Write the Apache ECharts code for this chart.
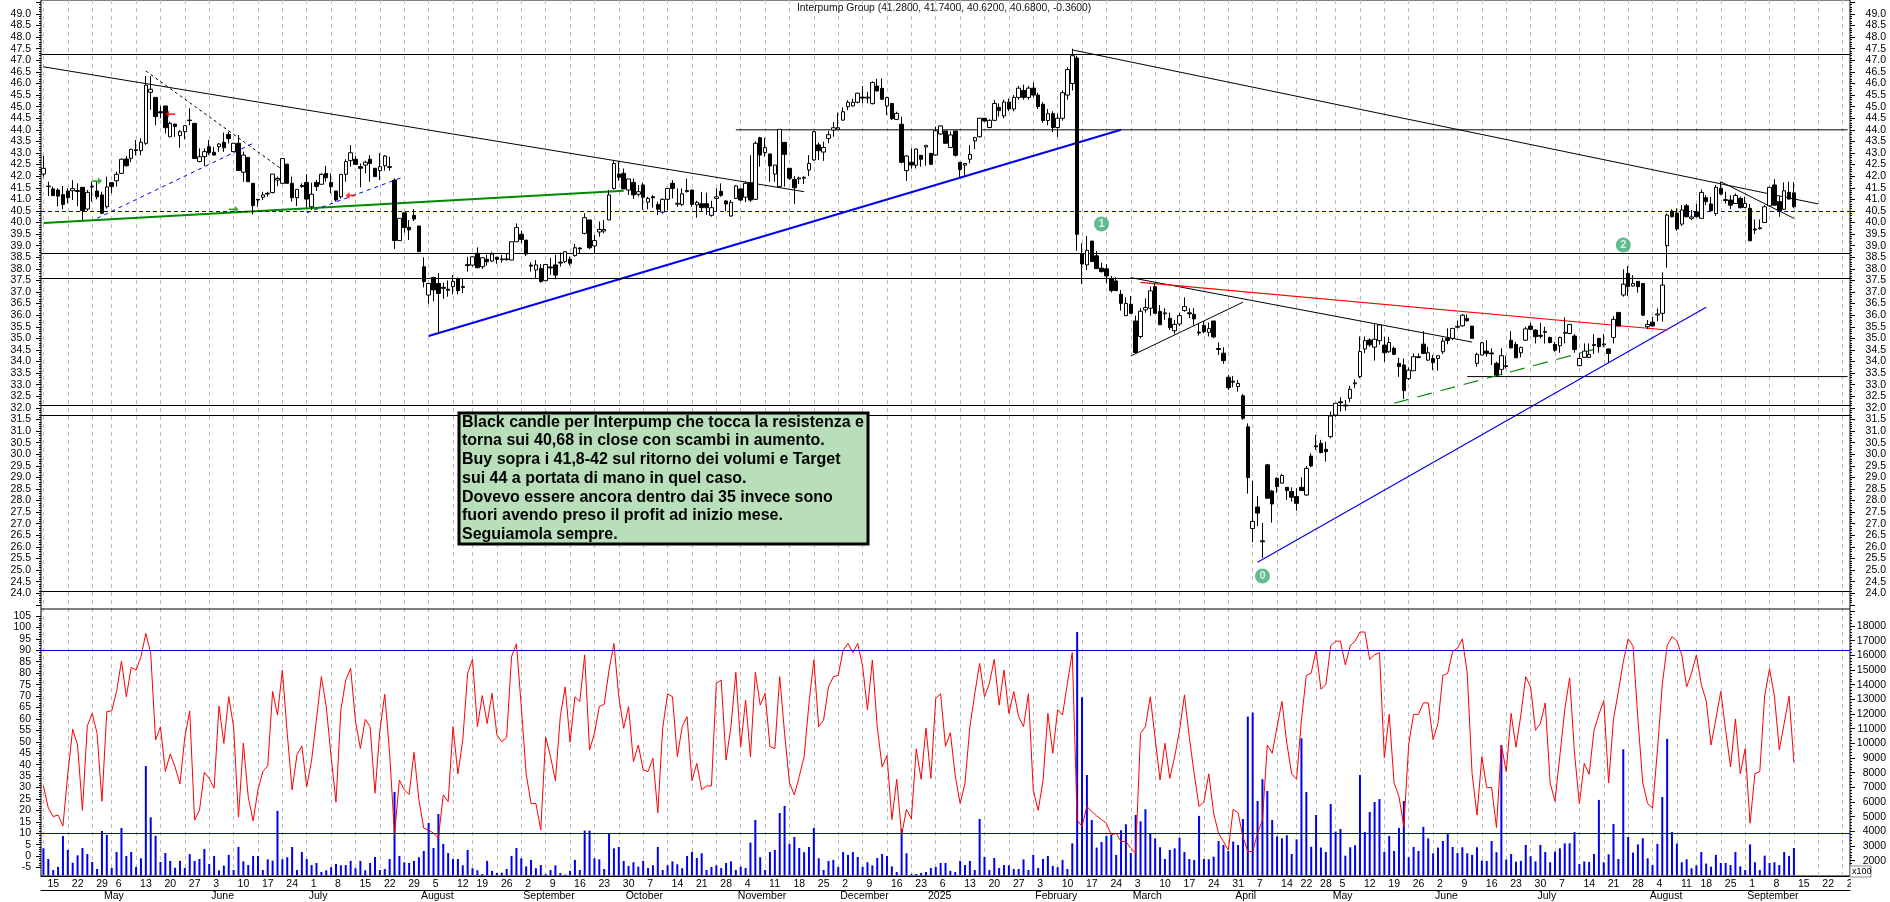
<!DOCTYPE html>
<html lang="it">

<head>
  <meta charset="UTF-8">
  <title>Interpump Group</title>
  <style>
    html, body { margin: 0; padding: 0; background: #fff; }
    #main { width: 1890px; height: 902px; }
  </style>
</head>

<body>
  <div id="main"></div>
  <script src="https://cdn.jsdelivr.net/npm/echarts@6/dist/echarts.min.js"></script>
  <script type="text/javascript">
    // daily bars, 15 apr 2024 -> 15 sep 2025
    const opens = [
      42.09,41.55,41.45,41.4,41.2,41.36,41.37,41.38,41.52,40.58,
      41.53,41.36,41.19,40.68,41.72,41.8,42.12,42.74,42.77,43.14,
      43.1,43.42,45.62,45.4,44.78,45.03,43.7,44.25,43.75,43.92,
      44.42,44.28,42.63,42.84,43.27,43.03,43.27,43.46,43.8,43.06,
      43.42,42.17,42.81,41.69,41.0,41.09,41.26,41.29,41.83,41.69,
      42.52,41.69,41.07,41.6,41.73,40.68,41.73,41.65,42.12,41.73,
      41.36,41.11,42.08,42.67,42.73,42.41,42.48,42.73,42.34,42.24,
      42.45,42.41,41.83,39.22,40.42,39.79,40.31,39.85,38.09,36.87,
      37.63,37.37,37.2,37.12,37.23,37.57,37.19,38.18,38.16,38.67,
      38.09,38.41,38.34,38.5,38.43,38.4,38.38,39.17,39.49,39.24,
      38.16,37.95,38.02,37.49,38.08,38.17,38.29,38.31,38.41,38.57,
      38.9,39.53,40.11,38.99,39.59,39.63,40.11,41.47,42.09,42.12,
      41.4,41.73,41.22,41.62,40.88,41.11,40.78,40.45,41.0,41.69,
      40.79,40.78,41.38,41.4,40.76,40.81,40.81,40.31,41.04,41.34,
      40.93,40.28,41.04,41.45,41.09,41.72,41,43.66,43.02,42.96,
      42.09,41.55,43.46,42.34,41.86,41.88,41.91,42.27,42.7,43.35,
      43.04,43.63,43.99,44.02,44.42,45,45.03,45.19,45.41,45.37,
      45.13,45.89,45.79,45.03,45.14,44.45,44.24,42.24,42.6,42.47,
      42.9,43.26,42.98,42.91,43.82,43.95,43.24,43.95,42.6,42.48,
      42.73,43.52,43.7,44.5,44.1,44.41,44.97,44.6,45.2,44.9,
      45.4,45.7,45.4,45.8,45.5,45.1,44.4,44.7,44.1,44.5,
      45.5,46.0,47.1,38.67,38.17,39.2,38.56,38.03,38,37.59,
      37.48,36.9,35.98,36.47,35.75,35.08,36.23,36.3,37.23,36.16,
      36.06,35.87,35.33,35.62,36.2,36.1,36.04,35.27,35.56,35.26,
      35.75,34.56,34.36,33.32,33.15,32.92,32.52,31.18,26.79,27.72,
      26.26,29.54,28.41,28.96,28.75,28.57,28.39,28.17,28.57,28.24,
      29.92,30.36,30.47,30.21,30.76,31.69,32.26,32.12,32.41,33.04,
      33.35,34.54,34.93,34.62,34.9,34.71,34.42,34.57,33.92,33.85,
      33.26,33.6,34.21,34.75,34.06,34.13,34.13,34.42,35,35,
      35.48,35.54,35.86,35.53,33.92,34.28,34.45,34.37,33.92,33.66,
      33.78,34.92,34.74,34.38,34.92,35.53,35.36,35.13,35.26,35.04,
      34.74,34.68,35.22,35.21,35.1,33.82,34.18,34.18,34.73,35,
      34.72,34.54,35.04,36.12,36.87,37.8,37.26,37.46,37.37,35.5,
      35.7,36.01,36.08,39,40.49,40.41,39.93,40.72,40.18,40.46,
      40.18,41.07,40.8,40.39,41.47,40.95,40.97,40.82,41.04,40.65,
      40.61,39.72,39.73,40,40.72,41.62,40.9,40.57,41.3,41.28
    ];
    const highs = [
      42.87,41.76,41.55,41.48,41.58,41.48,41.83,41.69,41.52,41.4,
      41.76,41.76,41.33,41.98,41.72,42.19,42.77,42.87,43.16,43.56,
      43.63,46.32,46.32,45.4,45.03,45.03,44.35,44.25,43.99,44.18,
      44.93,44.28,43.2,43.2,43.56,43.27,43.42,43.88,43.92,43.42,
      43.78,43.06,42.81,41.69,41.0,41.33,41.33,42.09,41.98,42.76,
      42.52,41.98,41.43,41.69,42.09,41.72,41.84,42.12,42.44,42.12,
      41.36,42.08,42.73,43.34,42.87,42.55,42.67,42.91,42.34,42.99,
      42.91,42.84,41.9,40.18,40.42,40.11,40.58,39.85,38.5,37.37,
      37.63,37.81,37.4,37.5,37.73,37.63,37.6,38.52,38.52,38.93,
      38.5,38.6,38.72,38.52,38.6,38.67,39.17,39.96,39.65,39.24,
      38.28,38.38,38.2,38.19,38.47,38.6,38.7,38.74,38.53,39.07,
      38.93,40.4,40.11,39.46,40.04,40.11,41.4,42.65,42.64,42.33,
      41.88,41.9,41.62,41.72,41.11,41.18,40.9,41.04,41.47,41.83,
      41.47,41.47,41.9,41.43,40.94,41.32,41.29,40.94,41.47,41.69,
      40.97,40.97,41.62,41.48,41.76,42.9,43.5,43.7,43.66,42.96,
      42.48,44.02,43.46,42.34,42.0,41.98,42.0,42.91,43.96,43.45,
      43.49,43.96,44.34,44.74,44.97,45.28,45.35,45.6,45.89,45.64,
      46.09,46.2,46.22,45.43,45.14,44.78,44.57,42.91,43.2,43.2,
      42.91,43.33,43.01,44.14,44.2,43.95,43.92,43.95,42.6,42.55,
      43.34,43.7,44.5,44.5,44.45,45.29,45.14,45.3,45.35,45.5,
      45.9,45.95,45.9,46.05,45.6,45.2,44.9,44.8,44.7,45.7,
      46.7,47.5,47.2,39.1,39.42,39.2,38.77,38.27,38.2,37.69,
      37.64,37.09,36.77,36.83,35.98,36.3,36.73,37.23,37.38,36.44,
      36.3,36.11,35.8,36.11,36.77,36.3,36.3,35.65,35.75,35.68,
      35.75,34.83,34.62,33.42,33.38,33.2,32.6,31.33,28.85,28.2,
      27.03,29.58,28.46,29.0,29.15,28.57,28.57,28.53,29.0,29.49,
      30.04,30.83,30.62,30.54,31.84,32.2,32.46,32.34,32.95,33.23,
      35.08,35.08,35.0,35.61,35.62,35.07,35.07,34.64,34.16,34.13,
      33.75,34.35,34.35,35.31,34.64,34.28,34.25,35.03,35.43,35.43,
      35.76,36.05,36.03,35.53,34.38,34.85,34.92,34.57,33.99,34.57,
      34.25,35.31,34.85,34.64,35.5,35.67,35.39,35.67,35.5,35.07,
      34.85,35.07,35.9,35.62,35.18,34.35,34.78,34.78,35.18,35,
      35.18,34.56,35.96,36.12,37.98,38.12,37.73,37.46,37.37,35.79,
      35.93,36.29,37.85,40.39,40.57,40.61,40.75,40.8,40.54,40.8,
      41.43,41.18,41.11,41.62,41.76,41.33,41.18,41.26,41.11,41.11,
      40.8,40.13,40.13,40.75,41.54,41.87,41.14,41.73,41.76,41.74
    ];
    const lows = [
      41.98,41.14,41.16,40.7,40.57,40.83,40.97,40.7,40.11,40.5,
      40.9,41.0,40.36,40.6,41.26,41.55,42.1,42.41,42.6,42.9,
      42.9,43.35,44.86,44.2,44.5,43.85,43.7,43.7,43.23,43.59,
      44.2,42.76,42.6,42.44,42.91,42.91,43.05,43.05,43.42,43.06,
      42.24,41.76,41.76,40.35,40.68,40.97,41.11,41.26,41.57,41.69,
      41.69,40.9,40.71,41.5,40.65,40.54,41.36,41.65,41.76,41.26,
      40.9,41.03,41.76,42.41,42.48,41.52,42.12,41.76,41.98,41.83,
      42.24,42.24,38.86,39.22,39.56,39.24,40.06,38.74,37.2,36.5,
      36.6,35.2,36.7,36.8,36.9,36.9,36.95,37.88,38.1,38.02,
      38.0,38.14,38.3,38.22,38.27,38.35,38.38,39.17,39.1,38.55,
      37.88,37.59,37.4,37.49,37.73,37.55,38.1,38.24,38.14,38.53,
      38.67,39.49,38.85,38.67,39.39,39.53,40.11,41.42,41.8,41.45,
      41.19,41.02,41.12,40.54,40.57,40.64,40.32,40.38,40.54,41.04,
      40.68,40.71,41.29,40.68,40.21,40.48,40.33,40.25,40.48,41.11,
      40.48,40.25,41.01,40.92,40.88,40.88,40.97,42.41,42.84,41.76,
      41.76,41.52,41.55,41.83,40.8,41.66,41.66,42.0,42.67,42.7,
      42.66,43.42,43.7,43.99,44.39,44.85,45,45.14,45.14,45.14,
      45.1,45.65,45.29,44.64,44.42,44.45,42.55,41.8,42.33,42.33,
      42.41,42.45,42.48,42.88,43.79,43.39,43.24,42.84,41.91,42.04,
      42.55,43.16,43.67,44.36,44.07,44.38,44.57,44.5,44.8,44.8,
      45.3,45.3,45.3,45.4,44.9,44.3,44.2,43.9,43.7,44.4,
      45.3,45.7,38.78,37.35,37.95,38.31,38.01,37.84,37.38,36.98,
      37.06,36.2,35.98,36.05,34.39,35.0,36.11,35.97,36.08,35.59,
      35.8,35.36,35.19,35.53,36.15,35.87,35.55,35.12,35.22,35.08,
      35,34.28,33.9,32.77,32.89,32.7,31.48,28.3,26.2,26.9,
      25.52,28.1,27.05,28.34,28.75,28.03,27.95,27.56,28.43,28.2,
      29.44,30.18,30.04,29.68,30.69,31.62,31.84,31.88,32.24,32.85,
      33.28,34.36,34.64,34.04,34.72,33.99,34.38,34.28,33.34,32.38,
      33.2,33.6,34.14,34.32,34.03,33.63,33.6,34.32,34.75,34.92,
      35.43,35.5,35.72,35,33.77,34.28,34.21,33.85,33.34,33.41,
      33.7,34.56,34.16,34.18,34.89,35.36,34.78,35,34.78,34.78,
      34.42,34.38,34.78,35.18,34.38,33.8,34.15,34.15,34.32,34.38,
      34.64,33.95,34.78,35.53,36.8,36.82,37.23,36.97,35.96,35.4,
      35.5,35.74,35.72,38.05,40.22,39.64,39.85,40.22,40.1,40.22,
      40.18,40.75,40.46,40.29,41.18,40.82,40.58,40.8,40.61,40.62,
      39.2,39.5,39.7,40,40.71,40.74,40.25,40.54,41,40.62
    ];
    const closes = [
      42.34,41.57,41.16,41.14,40.78,41.07,41.46,41.34,40.51,41.3,
      41.57,41.11,40.4,41.53,41.55,42.08,42.73,42.45,43.16,43.1,
      43.46,45.93,45.75,44.57,44.73,44.09,44.28,44.14,43.92,44.18,
      44.4,42.76,42.84,43.06,43.01,42.91,43.39,43.23,43.62,43.42,
      42.24,42.91,41.76,40.73,40.97,41.19,41.23,42.09,41.9,42.76,
      41.69,41.07,41.43,41.55,41.01,41.22,41.55,42.08,41.93,41.55,
      40.97,42.08,42.63,43.01,42.51,42.34,42.6,42.55,41.98,42.41,
      42.87,42.38,39.22,40.18,39.78,39.68,40.15,38.74,37.45,37.37,
      37.09,36.94,37.16,37.08,37.45,37.06,37.24,38.14,38.52,38.05,
      38.48,38.31,38.64,38.41,38.39,38.43,39.17,39.78,39.27,38.64,
      38.12,38.17,37.45,38.19,38.04,37.73,38.25,38.74,38.24,38.91,
      38.86,40.21,38.91,39.22,39.7,39.7,41.19,42.55,41.95,41.45,
      41.88,41.19,41.33,41.09,41.04,41.07,40.57,41.0,41.47,41.47,
      40.83,41.24,41.34,40.78,40.87,40.64,40.64,40.64,41.11,41.17,
      40.8,40.87,41.58,40.97,41.69,40.97,43.42,42.91,43.23,42.44,
      42.48,44.02,42.94,41.91,41.5,41.92,41.95,42.55,43.92,43.1,
      43.24,43.79,44.09,44.09,44.78,45.19,45.19,45.58,45.37,45.41,
      46.04,45.68,45.32,45.39,44.48,44.71,42.6,42.87,42.48,43.17,
      42.73,43.33,42.51,43.96,44.17,43.42,43.78,42.9,42.29,42.55,
      42.94,43.66,44.5,44.38,44.41,45.14,44.83,45.2,44.9,45.4,
      45.8,45.4,45.8,45.5,45.0,44.4,44.7,44.1,44.5,45.6,
      46.6,47.2,39.49,38.21,38.8,38.31,38.01,37.88,37.69,37.06,
      37.06,36.51,36.51,36.08,34.39,36.17,36.33,37.05,36.08,35.59,
      36.1,35.46,35.6,35.98,36.37,36.06,35.84,35.23,35.29,35.42,
      35.06,34.52,34.04,32.87,33.11,33.05,31.55,28.99,27.1,27.46,
      26.22,28.1,27.85,28.6,29.08,28.43,28.14,27.88,28.43,29.39,
      29.49,30.32,30.07,30.11,31.65,32.2,32.22,32.08,32.8,33.08,
      34.43,34.9,34.72,34.96,35.58,34.38,34.82,34.31,33.78,32.74,
      33.63,34.21,34.17,34.35,34.38,33.96,34.25,34.88,34.91,35.43,
      35.52,36,35.76,35,34.31,34.81,34.35,34.33,33.42,34.25,
      33.82,34.59,34.16,34.61,35.41,35.39,35.07,35.09,35.3,34.82,
      34.49,35.04,35.26,35.6,34.52,34.13,34.45,34.31,34.69,34.64,
      34.76,34.35,35.82,35.53,37.34,37.23,37.37,37.23,36,35.6,
      35.54,36.05,37.3,40.32,40.25,39.72,40.54,40.25,40.24,40.25,
      41.3,40.9,40.51,41.52,41.23,40.99,40.75,41.17,40.64,40.82,
      39.21,39.68,39.77,40.68,41.52,40.75,40.49,41.37,41.01,40.68
    ];
    const volumes = [
      2840,2110,1360,1570,3680,2730,1860,2360,2860,2450,
      1910,1430,4020,3750,1500,2590,4230,2320,2590,1570,
      2160,8450,4950,3700,1910,2520,1980,1520,1980,1500,
      2450,1980,2110,2800,1770,2320,1340,1660,2390,1360,
      2930,1950,1700,2320,2320,1360,2090,2000,5390,2090,
      2230,2930,1360,2590,2110,1700,1840,1230,1340,1550,
      1770,1680,1700,1980,1480,1980,1340,1840,2250,1360,
      1430,2110,6680,2320,1890,1840,1980,2230,2660,4570,
      2860,5180,3140,2520,2110,2110,1680,2730,1480,1340,
      1090,1980,1300,1160,1180,1430,2320,2860,2160,1610,
      2050,1480,1700,1090,1360,1680,1160,1050,1300,2050,
      1360,4050,4050,2160,2090,1430,3860,2840,2930,1980,
      1640,1890,1590,1980,1500,1680,2930,1360,1680,1950,
      1750,1480,2320,2590,2180,2500,1360,1570,1680,1500,
      1840,1950,1360,1590,1500,3230,4770,2230,1360,2590,
      2730,5250,5730,3140,3610,2860,2570,2930,4230,2160,
      1360,1980,2050,1570,2590,2390,2590,2250,1570,1890,
      1680,2180,2450,2320,1610,1230,4160,2500,1090,1090,
      1160,1230,1500,1570,1840,1840,1300,1230,1980,1700,
      1980,1360,4840,2250,1360,2180,1500,1700,1680,1430,
      1430,2090,1360,2390,1500,2110,2320,1640,1550,2050,
      1430,3180,17590,13140,7840,4770,2890,3270,3680,3750,
      2390,4070,4480,2520,5110,4680,5500,3860,3520,2910,
      2110,2730,2840,3570,2590,2110,2050,5050,2110,2090,
      2270,3340,3070,2660,3300,3070,4840,11820,12090,6070,
      7550,6750,4770,3660,3520,3730,2450,3450,10340,6680,
      2950,5110,2890,2590,5860,3980,4160,2340,2910,3050,
      7840,3950,5320,6000,6200,2590,3680,2660,4230,6070,
      2230,2930,2660,4300,3520,2500,2890,3340,3820,2930,
      2520,2910,2500,2390,2910,2000,1980,3340,2570,9890,
      2070,2450,1930,1980,3070,2300,1950,3070,2590,1890,
      2610,2840,3180,3180,3950,1770,1950,1910,2450,6140,
      1890,2430,4500,2110,9590,3610,2550,3110,3520,2160,
      1700,3140,6340,10300,3950,3160,1890,2090,1480,1680,
      2590,1800,1590,2390,1840,1840,1700,2590,1610,1360,
      3110,1890,1360,2340,1840,1890,1700,2590,2320,2860
    ];
    const oscillator = [
      30.7,21,17.3,18,13.2,36,55.5,48.6,20,57,
      62.4,53.7,24,63.2,63.5,72,85.3,69.7,82.6,81.3,
      87.2,97.4,88.7,50.8,56.6,37,44.7,39,31.6,52,
      63.5,15.8,20,36.7,34,29.7,65.6,49.3,69.7,56.6,
      17,49.4,26,15.4,29,37,39.5,72,61.7,81.4,
      53.7,29,44.3,48.2,30.4,42,60,78.5,65.4,43.5,
      23.6,63.9,77,82.1,58.8,47.1,59.8,56.6,27.5,55,
      70.8,45,9.3,33.3,29,27,45.4,24.6,12.2,11.5,
      10,8,26.8,23.8,56.6,36,50.8,80,86,56.6,
      70.2,58,71.2,53,50,52,87.2,92.8,65.4,36,
      23,23,11.5,52,43.5,33,61,74,49.8,69.7,
      67.6,88,46.4,53.7,65.4,66.4,81.4,93,69.7,55.9,
      65.4,41.3,48.6,37.7,37,42.8,19,56,71,69.7,
      43.5,56.6,61,33,40.6,29,30.7,30.7,75.6,77,
      42,56.6,80.4,47.9,68.3,43.5,80.4,66,71.2,47.9,
      47,78.5,53.7,32,26.8,34.8,43.5,66.8,85.8,56.6,
      59.5,74,78.5,79,90,93,89,93,83,64,
      85.8,56.6,39,44,16,33.6,9.3,20.5,16.3,46.9,
      33.6,56,34,69,71,48,54,35,23,32,
      56.6,71,84.3,69.7,75.6,86,66,81.4,62.4,72,
      61,56.6,71,29,20,33,62.4,45,64,61.7,
      75.6,89,15.8,13,21.7,19.5,17.6,16,14.4,9.3,
      10,6.4,6.4,3.4,1.3,53.7,56.6,69.7,51.5,33.3,
      49.4,34,43.5,55,70.5,52,36,21.7,23.8,36,
      18.7,10,6.4,2.7,20.5,19,8.5,2,2,10,
      15.8,48.6,45,56.6,67.6,49.3,36,33.6,59.5,79,
      80,90,73,75,92,94,94,83.6,92,94,
      98,98,86,88,89,43,62,32,26,13,
      49,62,62,67,67,51,58,79,80,89.4,
      91,95,80,36,18,43.5,30,30,12.5,48.6,
      37,62.4,47.6,61.7,78.5,74,55,58,67,32,
      24,44,64,78,45,23,40.6,35.8,55,62,
      68,32,60,72,85,95,92,60,32,23,
      21,46,75,92,96,94,88,74,80,88,
      75,68,48.6,60,72,55,39,60,36,47,
      14.4,36,37,70,82,70,46.5,58,70,41
    ];

    const holidays = ['2024-05-01', '2024-08-15', '2024-12-24', '2024-12-25', '2024-12-26', '2024-12-31',
      '2025-01-01', '2025-04-18', '2025-04-21', '2025-05-01', '2025-08-15'];
    const monthNames = ['2025', 'February', 'March', 'April', 'May', 'June', 'July', 'August', 'September', 'October', 'November', 'December'];
    const slotCount = 371; // 360 bars + empty room on the right

    const hLevels = [47.27, 38.67, 37.59, 32.11, 31.68, 24.08];
    const supportLevel = 40.48;
    const oscLevels = [90, 10];

    // [startBar, startPrice, endBar, endPrice]
    const thinBlackLines = [
      [0, 46.72, 156, 41.33], [211, 47.45, 364, 40.8], [223, 37.62, 293, 34.84],
      [223, 34.24, 246, 36.56], [344, 41.76, 359, 40.18],
      [142, 44.0, 370, 44.0], [292, 33.35, 370, 33.35]
    ];
    const dottedBlackLines = [[21, 46.54, 51, 41.98]];
    const thickGreenLines = [[0, 39.98, 119, 41.37]];
    const dashedGreenLines = [[277, 32.2, 320, 34.64]];
    const thickBlueLines = [[79, 35.1, 221, 44.0]];
    const thinBlueLines = [[249, 25.34, 341, 36.34]];
    const dashedBlueLines = [[11, 40.18, 43, 43.42], [54, 40.42, 74, 41.98]];
    const redLines = [[225, 37.42, 333, 35.36]];

    // [bar, price, text]
    const waveMarks = [[217, 39.94, '1'], [324, 39.03, '2'], [250, 24.74, '0']];
    const greenArrows = [[11, 41.79], [39, 40.57]];
    const redArrows = [[26, 44.68], [63, 41.17]];

    const titleText = 'Interpump Group (41.2800, 41.7400, 40.6200, 40.6800, -0.3600)';
    const noteText = [
      'Black candle per Interpump che tocca la resistenza e',
      'torna sui 40,68 in close con scambi in aumento.',
      'Buy sopra i 41,8-42 sul ritorno dei volumi e Target',
      'sui 44 a portata di mano in quel caso.',
      'Dovevo essere ancora dentro dai 35 invece sono',
      'fuori avendo preso il profit ad inizio mese.',
      'Seguiamola sempre.'
    ].join('\n');

    function iso(d) { return d.toISOString().slice(0, 10); }

    // trading calendar: weekdays without the closed days, so weeks come out right
    const categories = [];
    const weekStarts = {};
    const monthStarts = {};
    (function () {
      let d = new Date(Date.UTC(2024, 3, 15));
      let lastWeek = null, lastMonth = 3;
      while (categories.length < slotCount) {
        const day = d.getUTCDay();
        const key = iso(d);
        if (day !== 0 && day !== 6 && holidays.indexOf(key) < 0) {
          const monday = new Date(d.getTime() - (day - 1) * 86400000);
          const week = iso(monday);
          if (week !== lastWeek && key !== '2024-12-30') weekStarts[categories.length] = true;
          lastWeek = week;
          if (d.getUTCMonth() !== lastMonth) monthStarts[categories.length] = true;
          lastMonth = d.getUTCMonth();
          categories.push(key);
        }
        d = new Date(d.getTime() + 86400000);
      }
    })();

    const isWeek = (i) => !!weekStarts[i];
    const isMonth = (i) => !!monthStarts[i];
    const isRowTick = (i) => !!weekStarts[i] || !!monthStarts[i];

    function lineSeries(list, color, width, type, z) {
      return list.map(function (l) {
        return {
          type: 'line', xAxisIndex: 2, yAxisIndex: 1, silent: true, showSymbol: false, animation: false,
          data: [[l[0], l[1]], [l[2], l[3]]],
          lineStyle: { color: color, width: width, type: type },
          z: z || 4
        };
      });
    }

    const candleData = opens.map((o, i) => [o, closes[i], lows[i], highs[i]]);

    const gridLeft = 41, gridWidth = 1809;
    const hiddenX = (gridIndex) => ({
      type: 'category', gridIndex: gridIndex, data: categories, show: false, boundaryGap: true
    });
    const axisFont = { fontFamily: 'Liberation Sans', fontSize: 10.5, color: '#000' };

    const option = {
      animation: false,
      backgroundColor: '#fff',
      title: {
        text: titleText, left: 797, top: 3, padding: 0,
        textStyle: { fontFamily: 'Liberation Sans', fontSize: 10.3, fontWeight: 'normal', color: '#111' }
      },
      grid: [
        { left: gridLeft, width: gridWidth, top: 0, height: 876.5, show: true, borderColor: '#000', borderWidth: 1, backgroundColor: '#fff' },
        { left: gridLeft, width: gridWidth, top: 2.4, height: 602.4 },
        { left: gridLeft, width: gridWidth, top: 611.3, height: 264 },
        { left: gridLeft, width: gridWidth, top: 616, height: 251.6 }
      ],
      xAxis: [
        {
          type: 'category', gridIndex: 0, data: categories, boundaryGap: true, position: 'bottom',
          axisLine: { lineStyle: { color: '#000' } },
          axisTick: { alignWithLabel: true, length: 14, interval: isRowTick, lineStyle: { color: '#000' } },
          axisLabel: Object.assign({}, axisFont, {
            interval: isWeek, align: 'left', margin: 3, padding: [0, 0, 0, 4],
            formatter: (v) => String(Number(v.slice(8)))
          }),
          splitLine: {
            show: true, alignWithLabel: true, interval: isWeek,
            lineStyle: { color: '#bdbdbd', type: [4, 4], width: 1 }
          }
        },
        {
          type: 'category', gridIndex: 0, data: categories, boundaryGap: true, position: 'bottom', offset: 14,
          axisLine: { lineStyle: { color: '#000' } },
          axisTick: { alignWithLabel: true, length: 12, interval: isMonth, lineStyle: { color: '#000' } },
          axisLabel: Object.assign({}, axisFont, {
            interval: isMonth, align: 'left', margin: 1, padding: [0, 0, 0, 2],
            formatter: (v) => monthNames[Number(v.slice(5, 7)) - 1]
          })
        },
        hiddenX(1), hiddenX(2), hiddenX(3)
      ],
      yAxis: [
        { type: 'value', gridIndex: 0, show: false, min: 0, max: 1 },
        {
          type: 'value', gridIndex: 1, position: 'left', min: 23.5, max: 49.5, interval: 0.5, scale: true,
          axisLine: { show: false },
          axisTick: { show: true, length: 5, lineStyle: { color: '#000' } },
          minorTick: { show: true, splitNumber: 5, length: 2, lineStyle: { color: '#000' } },
          axisLabel: Object.assign({}, axisFont, { margin: 10, showMinLabel: false, showMaxLabel: false, formatter: (v) => v.toFixed(1) }),
          splitLine: { show: false }
        },
        {
          type: 'value', gridIndex: 1, position: 'right', min: 23.5, max: 49.5, interval: 0.5, scale: true,
          axisLine: { show: false },
          axisTick: { show: true, length: 5, lineStyle: { color: '#000' } },
          minorTick: { show: true, splitNumber: 5, length: 2, lineStyle: { color: '#000' } },
          axisLabel: Object.assign({}, axisFont, { margin: 36, align: 'right', showMinLabel: false, showMaxLabel: false, formatter: (v) => v.toFixed(1) }),
          splitLine: { show: false }
        },
        {
          type: 'value', gridIndex: 2, position: 'right', min: 1000, max: 19000, interval: 1000,
          axisLine: { show: false },
          axisTick: { show: true, length: 5, lineStyle: { color: '#000' } },
          minorTick: { show: true, splitNumber: 5, length: 2, lineStyle: { color: '#000' } },
          axisLabel: Object.assign({}, axisFont, { margin: 36, align: 'right', showMinLabel: false, showMaxLabel: false, formatter: (v) => String(v) }),
          splitLine: { show: false }
        },
        {
          type: 'value', gridIndex: 3, position: 'left', min: -5, max: 105, interval: 5,
          axisLine: { show: false },
          axisTick: { show: true, length: 5, lineStyle: { color: '#000' } },
          minorTick: { show: true, splitNumber: 5, length: 2, lineStyle: { color: '#000' } },
          axisLabel: Object.assign({}, axisFont, { margin: 10 }),
          splitLine: { show: false }
        }
      ],
      series: [
        {
          type: 'bar', xAxisIndex: 3, yAxisIndex: 3, data: volumes, barWidth: 2, silent: true,
          itemStyle: { color: '#0000f0' }, z: 2
        },
        {
          type: 'line', xAxisIndex: 4, yAxisIndex: 4, data: oscillator, showSymbol: false, silent: true,
          lineStyle: { color: '#ff0000', width: 1 }, z: 3,
          markLine: {
            silent: true, symbol: 'none', label: { show: false }, animation: false,
            lineStyle: { color: '#0000e0', width: 1, type: 'solid' },
            data: oscLevels.map((v) => ({ yAxis: v }))
          }
        },
        {
          type: 'candlestick', xAxisIndex: 2, yAxisIndex: 1, data: candleData, barWidth: 4, silent: true,
          itemStyle: {
            color: '#ffffff', color0: '#000000', borderColor: '#000000', borderColor0: '#000000',
            borderColorDoji: '#000000', borderWidth: 1
          },
          z: 5,
          markLine: {
            silent: true, symbol: 'none', label: { show: false }, animation: false,
            lineStyle: { color: '#000', width: 1.2, type: 'solid' },
            data: hLevels.map((v) => ({ yAxis: v })).concat([
              { yAxis: supportLevel, lineStyle: { color: '#0000c8', width: 1, type: [4, 3] } }
            ])
          }
        }
      ].concat(
        lineSeries(thinBlackLines, '#000', 1, 'solid'),
        lineSeries(dottedBlackLines, '#000', 1, [3, 3]),
        lineSeries(thickGreenLines, '#008a00', 2, 'solid'),
        lineSeries(dashedGreenLines, '#008a00', 1.2, [15, 9]),
        lineSeries(thickBlueLines, '#0000f0', 2, 'solid'),
        lineSeries(thinBlueLines, '#0000f0', 1.2, 'solid'),
        lineSeries(dashedBlueLines, '#0000f0', 1, [4, 4]),
        lineSeries(redLines, '#ff0000', 1.2, 'solid'),
        [
          {
            type: 'scatter', xAxisIndex: 2, yAxisIndex: 1, silent: true, symbol: 'circle', symbolSize: 15, z: 7,
            data: waveMarks,
            itemStyle: { color: '#3aab76' },
            label: {
              show: true, position: 'inside', color: '#fff', fontFamily: 'Liberation Sans',
              fontSize: 11, fontWeight: 'bold', formatter: (p) => p.value[2]
            }
          },
          {
            type: 'scatter', xAxisIndex: 2, yAxisIndex: 1, silent: true, z: 7, data: greenArrows,
            symbol: 'path://M0 3 L6 3 L6 0 L10 4 L6 8 L6 5 L0 5 Z', symbolSize: [10, 7],
            itemStyle: { color: '#0a9a0a' }
          },
          {
            type: 'scatter', xAxisIndex: 2, yAxisIndex: 1, silent: true, z: 7, data: redArrows,
            symbol: 'path://M10 3 L4 3 L4 0 L0 4 L4 8 L4 5 L10 5 Z', symbolSize: [10, 7],
            itemStyle: { color: '#ff0000' }
          }
        ]
      ),
      graphic: [
        { type: 'line', z: 20, silent: true, shape: { x1: 41, y1: 609, x2: 1850, y2: 609 }, style: { stroke: '#000', lineWidth: 1 } },
        {
          type: 'rect', z: 30, silent: true, shape: { x: 459, y: 413, width: 409, height: 131 },
          style: { fill: '#b9dfba', stroke: '#000', lineWidth: 3 }
        },
        {
          type: 'text', z: 31, silent: true, x: 462, y: 413,
          style: {
            text: noteText, fill: '#000', font: 'bold 16px "Liberation Sans"',
            lineHeight: 18.7, textVerticalAlign: 'top', verticalAlign: 'top'
          }
        },
        { type: 'rect', z: 40, silent: true, shape: { x: 1851, y: 877, width: 39, height: 25 }, style: { fill: '#fff' } },
        {
          type: 'rect', z: 41, silent: true, shape: { x: 1850, y: 866, width: 21, height: 11 },
          style: { fill: '#fff', stroke: '#888', lineWidth: 1 }
        },
        {
          type: 'text', z: 42, silent: true, x: 1852, y: 867,
          style: { text: 'x100', fill: '#000', font: '9px "Liberation Sans"' }
        }
      ]
    };

    var myChart = echarts.init(document.getElementById('main'));
    myChart.setOption(option);
  </script>
</body>

</html>
